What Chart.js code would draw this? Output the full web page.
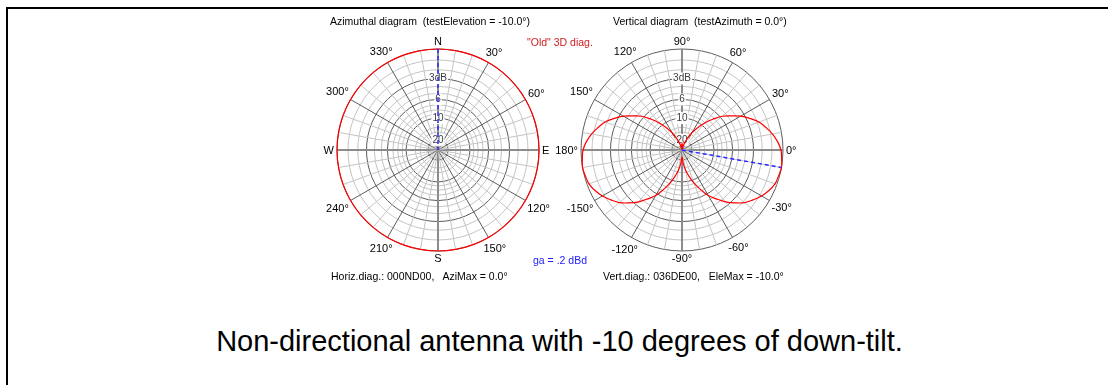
<!DOCTYPE html>
<html>
<head>
<meta charset="utf-8">
<script src="https://cdn.jsdelivr.net/npm/chart.js@4.4.1/dist/chart.umd.min.js"></script>
<style>
  html, body { margin: 0; padding: 0; background: #fff; }
  body { width: 1108px; height: 385px; position: relative; overflow: hidden; font-family: "Liberation Sans", Arial, sans-serif; }
  .frame { position: absolute; left: 6px; top: 7px; width: 1200px; height: 500px; border-left: 2px solid #000; border-top: 2px solid #000; }
  canvas { position: absolute; }
  .t { position: absolute; font-size: 10.5px; line-height: 12px; white-space: nowrap; color: #000; z-index: 2; }
  .caption { position: absolute; left: 0; width: 1119px; top: 324px; text-align: center; font-size: 29px; line-height: 34px; }
</style>
</head>
<body>
<div class="frame"></div>
<canvas id="azChart" width="260" height="260" style="left:308px; top:20px;"></canvas>
<canvas id="elChart" width="260" height="260" style="left:552px; top:20px;"></canvas>

<div class="t" style="left:330px; top:15px;">Azimuthal diagram&nbsp; (testElevation = -10.0°)</div>
<div class="t" style="left:613px; top:15px;">Vertical diagram&nbsp; (testAzimuth = 0.0°)</div>
<div class="t" style="left:527px; top:36px; color:#d02020;">"Old" 3D diag.</div>
<div class="t" style="left:533px; top:254px; color:#2020ff;">ga = .2 dBd</div>
<div class="t" style="left:331px; top:270px;">Horiz.diag.: 000ND00,&nbsp;&nbsp; AziMax = 0.0°</div>
<div class="t" style="left:603px; top:270px;">Vert.diag.: 036DE00,&nbsp;&nbsp; EleMax = -10.0°</div>
<div class="caption">Non-directional antenna with -10 degrees of down-tilt.</div>

<script>
// azimuth diagram: 10 degree steps, clockwise from N
const azAngles = [0, 10, 20, 30, 40, 50, 60, 70, 80, 90, 100, 110, 120, 130, 140, 150, 160, 170,
                  180, 190, 200, 210, 220, 230, 240, 250, 260, 270, 280, 290, 300, 310, 320, 330, 340, 350];
// relative field strength (1 = 0 dB), non-directional
const azPattern = [1, 1, 1, 1, 1, 1, 1, 1, 1, 1, 1, 1, 1, 1, 1, 1, 1, 1,
                   1, 1, 1, 1, 1, 1, 1, 1, 1, 1, 1, 1, 1, 1, 1, 1, 1, 1];
const azCompass = ['N', '30°', '60°', 'E', '120°', '150°', 'S', '210°', '240°', 'W', '300°', '330°'];
const aziMax = 0;

// vertical diagram: 5 degree steps, clockwise from 90 (top)
const elAngles = [90, 85, 80, 75, 70, 65, 60, 55, 50, 45, 40, 35, 30, 25, 20, 15, 10, 5,
                  0, -5, -10, -15, -20, -25, -30, -35, -40, -45, -50, -55, -60, -65, -70, -75, -80, -85,
                  -90, -95, -100, -105, -110, -115, -120, -125, -130, -135, -140, -145, -150, -155, -160, -165, -170, -175,
                  180, 175, 170, 165, 160, 155, 150, 145, 140, 135, 130, 125, 120, 115, 110, 105, 100, 95];
const elPattern = [0.07, 0.03, 0, 0.03, 0.07, 0.13, 0.20, 0.27, 0.35, 0.43, 0.52, 0.59, 0.67, 0.74, 0.81, 0.86, 0.91, 0.95,
                   0.98, 0.99, 1.00, 0.99, 0.98, 0.95, 0.91, 0.86, 0.81, 0.74, 0.67, 0.59, 0.52, 0.43, 0.35, 0.27, 0.20, 0.13,
                   0.07, 0.13, 0.20, 0.27, 0.35, 0.43, 0.52, 0.59, 0.67, 0.74, 0.81, 0.86, 0.91, 0.95, 0.98, 0.99, 1.00, 0.99,
                   0.98, 0.95, 0.91, 0.86, 0.81, 0.74, 0.67, 0.59, 0.52, 0.43, 0.35, 0.27, 0.20, 0.13, 0.07, 0.03, 0, 0.03];
const elCompass = ['90°', '60°', '30°', '0°', '-30°', '-60°', '-90°', '-120°', '-150°', '180°', '150°', '120°'];
const eleMax = -10;

// rings in dB, labelled ones drawn dark
const ringDb = [-20, -15, -13, -10, -9, -8, -7, -6, -5, -4, -3, -2, -1, 0];
const ringLabels = { '-3': '3dB', '-6': '6', '-10': '10', '-20': '20' };

const field = db => Math.pow(10, db / 20);

const LIGHT = '#c4c4c4';
const DARK = '#5c5c5c';
const AXIS = '#8c8c8c';

// draws the compass/angle labels just outside the outer ring
const compassPlugin = {
    id: 'compass',
    afterDraw(chart, args, opts) {
        const scale = chart.scales.r;
        const ctx = chart.ctx;
        ctx.save();
        ctx.font = '11px "Liberation Sans", Arial, sans-serif';
        ctx.fillStyle = '#000';
        ctx.textAlign = 'center';
        ctx.textBaseline = 'middle';
        opts.labels.forEach((text, k) => {
            const p = scale.getPointPosition(k * opts.step, scale.drawingArea);
            const dx = (p.x - scale.xCenter) / scale.drawingArea;
            const dy = (p.y - scale.yCenter) / scale.drawingArea;
            const w = ctx.measureText(text).width;
            const extra = 3 + Math.abs(dx) * w / 2 + Math.abs(dy) * 4.5;
            ctx.fillText(text, p.x + dx * extra, p.y + dy * extra + 0.5);
        });
        ctx.restore();
    }
};

function radialScale(spokeStyle) {
    return {
        min: 0,
        max: 1,
        startAngle: 0,
        afterBuildTicks: (scale) => {
            scale.ticks = [{ value: 0 }].concat(ringDb.map(d => ({ value: field(d), db: d })));
        },
        ticks: {
            display: true,
            autoSkip: false,
            font: { size: 10, family: '"Liberation Sans", Arial, sans-serif' },
            color: '#3c3c3c',
            backdropColor: '#ffffff',
            backdropPadding: 1,
            showLabelBackdrop: (c) => !!(c.tick && ringLabels[c.tick.db]),
            callback: (value, index, ticks) => ringLabels[ticks[index].db] || ''
        },
        grid: {
            circular: true,
            color: (c) => (c.tick && (ringLabels[c.tick.db] || c.tick.db === 0)) ? DARK : LIGHT,
            lineWidth: 1
        },
        angleLines: {
            display: true,
            color: (c) => spokeStyle(c.index).color,
            lineWidth: (c) => spokeStyle(c.index).width
        },
        pointLabels: { display: false }
    };
}

function makeChart(id, angles, pattern, maxLine, compass, step, spokeStyle) {
    const ctx = document.getElementById(id).getContext('2d');
    return new Chart(ctx, {
        type: 'radar',
        data: {
            labels: angles,
            datasets: [
                {
                    data: maxLine,
                    borderColor: '#2a2aff',
                    borderWidth: 1.5,
                    borderDash: [4, 3],
                    pointRadius: 0,
                    fill: false,
                    spanGaps: false
                },
                {
                    data: pattern,
                    borderColor: '#ff0000',
                    borderWidth: 1.2,
                    pointRadius: 0,
                    fill: false,
                    tension: 0.4
                }
            ]
        },
        options: {
            responsive: false,
            animation: false,
            devicePixelRatio: 1,
            events: [],
            layout: { padding: 23 },
            plugins: {
                legend: { display: false },
                tooltip: { enabled: false },
                compass: { labels: compass, step: step }
            },
            scales: { r: radialScale(spokeStyle) }
        },
        plugins: [compassPlugin]
    });
}

// direction of maximum: a line from the centre out to the outer ring
const azMaxLine = azAngles.map((a, i) => a === aziMax ? 1 : (i === 1 ? 0 : null));
const elMaxLine = elAngles.map(a => a === eleMax ? 1 : (a === eleMax + 5 ? 0 : null));

makeChart('azChart', azAngles, azPattern, azMaxLine, azCompass, 3, (i) => {
    if (i % 9 === 0) return { color: AXIS, width: 2 };
    if (i % 3 === 0) return { color: DARK, width: 1 };
    return { color: LIGHT, width: 1 };
});

makeChart('elChart', elAngles, elPattern, elMaxLine, elCompass, 6, (i) => {
    if (i % 2 === 1) return { color: LIGHT, width: 0 };
    if (i % 18 === 0) return { color: AXIS, width: 2 };
    if (i % 6 === 0) return { color: DARK, width: 1 };
    return { color: LIGHT, width: 1 };
});
</script>
</body>
</html>
